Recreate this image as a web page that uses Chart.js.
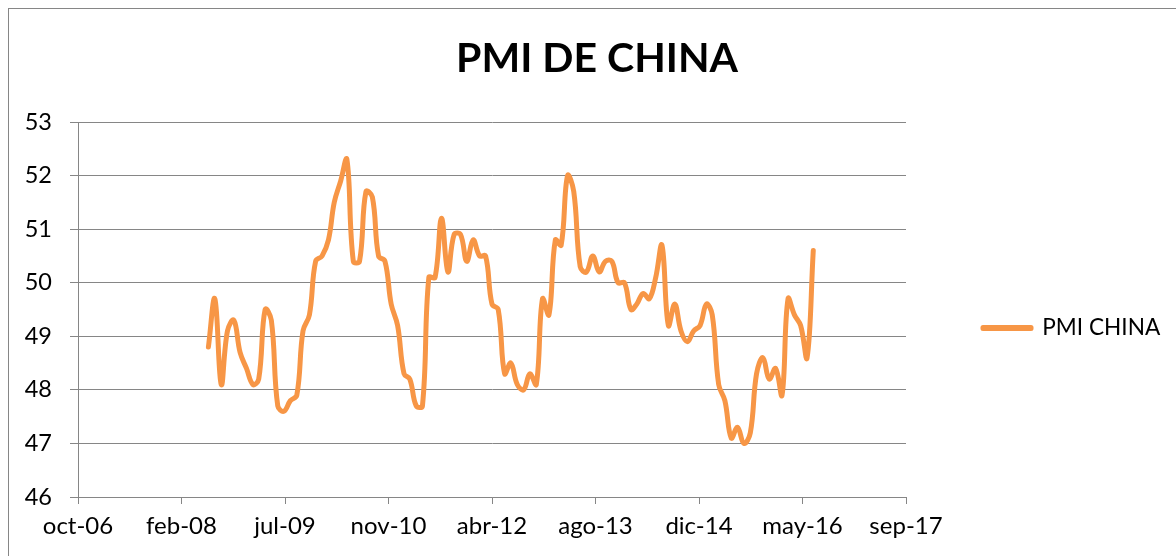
<!DOCTYPE html>
<html><head><meta charset="utf-8">
<script src="https://cdn.jsdelivr.net/npm/chart.js@4.4.1/dist/chart.umd.min.js"></script>
<style>
html,body{margin:0;padding:0;background:#fff;overflow:hidden;}
#frame{position:absolute;left:8px;top:8px;width:1300px;height:700px;border-left:1px solid #868686;border-top:1px solid #868686;}
#wrap{position:absolute;left:0;top:0;width:1176px;height:556px;}
</style></head><body>
<div id="frame"></div>
<div id="wrap"><canvas id="c" width="1176" height="556"></canvas></div>
<script>
// ---- data ----
const chartTitle = 'PMI DE CHINA';
const seriesName = 'PMI CHINA';
const firstMonth = { year: 2008, month: 7 };   // Jul 2008, one value per month
const pmiChina = [
  48.8, 49.7, 48.1, 49.1, 49.3, 48.7, 48.4, 48.1, 48.2, 49.5, 49.3, 47.7,
  47.6, 47.8, 47.9, 49.1, 49.4, 50.4, 50.5, 50.8, 51.5, 51.9, 52.3, 50.4,
  50.4, 51.7, 51.6, 50.5, 50.4, 49.6, 49.2, 48.3, 48.2, 47.7, 47.7, 50.1,
  50.1, 51.2, 50.2, 50.9, 50.9, 50.4, 50.8, 50.5, 50.5, 49.6, 49.5, 48.3,
  48.5, 48.1, 48.0, 48.3, 48.1, 49.7, 49.4, 50.8, 50.7, 52.0, 51.7, 50.3,
  50.2, 50.5, 50.2, 50.4, 50.4, 50.0, 50.0, 49.5, 49.6, 49.8, 49.7, 50.1,
  50.7, 49.2, 49.6, 49.1, 48.9, 49.1, 49.2, 49.6, 49.4, 48.1, 47.8, 47.1,
  47.3, 47.0, 47.2, 48.3, 48.6, 48.2, 48.4, 47.9, 49.7, 49.4, 49.2, 48.6,
  50.6
];
const xTickLabels = ['oct-06','feb-08','jul-09','nov-10','abr-12','ago-13','dic-14','may-16','sep-17'];
const xAxisMin = 39000, xAxisMax = 43000, xAxisStep = 500;   // Excel date serials
const yAxisMin = 46, yAxisMax = 53, yAxisStep = 1;

// ---- helpers ----
function excelSerial(y, m) {
  return Math.round((Date.UTC(y, m - 1, 1) - Date.UTC(1899, 11, 30)) / 86400000);
}
const points = pmiChina.map((v, i) => {
  const mi = firstMonth.month - 1 + i;
  const y = firstMonth.year + Math.floor(mi / 12);
  const m = (mi % 12) + 1;
  return { x: excelSerial(y, m), y: v };
});

const ORANGE = '#F79646';
const GRID = '#868686';
const FONT = 'Lato';
const PLOT_LEFT = 78, PLOT_RIGHT = 906, PLOT_BOTTOM = 497;
const PAD = { top: 8, left: 18, right: 0, bottom: 0 };

const legendWidthPlugin = {
  id: 'legendWidth',
  beforeLayout(chart) {
    const lg = chart.legend;
    if (lg && !lg.__fixed) {
      const orig = lg.fit.bind(lg);
      lg.fit = function () { orig(); this.width = 1176 - PAD.right - PLOT_RIGHT; };
      lg.__fixed = true;
    }
  }
};

new Chart(document.getElementById('c'), {
  type: 'line',
  data: {
    datasets: [{
      label: seriesName,
      data: points,
      borderColor: ORANGE,
      backgroundColor: ORANGE,
      borderWidth: 5,
      borderJoinStyle: 'round',
      borderCapStyle: 'round',
      pointRadius: 0,
      pointHoverRadius: 0,
      tension: 0.4,
      fill: false
    }]
  },
  options: {
    responsive: false,
    animation: false,
    devicePixelRatio: 1,
    layout: { padding: PAD },
    plugins: {
      tooltip: { enabled: false },
      title: {
        display: true,
        text: chartTitle,
        color: '#000',
        font: { family: FONT, size: 41, weight: 'bold', lineHeight: 1.2 },
        padding: { top: 26, bottom: 38.8 }
      },
      legend: {
        position: 'right',
        align: 'center',
        title: { display: true, text: '', font: { size: 10, lineHeight: 1.2 }, padding: { top: 40, bottom: 40 } },
        labels: {
          color: '#000',
          font: { family: FONT, size: 22.6 },
          boxWidth: 48,
          boxHeight: 1,
          padding: 77
        }
      }
    },
    scales: {
      x: {
        type: 'linear',
        min: xAxisMin, max: xAxisMax,
        afterFit(s) { s.height = 556 - PAD.bottom - PLOT_BOTTOM; },
        afterBuildTicks(s) {
          s.ticks = xTickLabels.map((_, i) => ({ value: xAxisMin + i * xAxisStep }));
        },
        ticks: {
          stepSize: xAxisStep,
          autoSkip: false,
          maxRotation: 0,
          padding: 8,
          color: '#000',
          font: { family: FONT, size: 24 },
          callback: (v) => xTickLabels[Math.round((v - xAxisMin) / xAxisStep)]
        },
        grid: { display: true, drawOnChartArea: false, drawTicks: true, tickLength: 7, color: GRID, lineWidth: 1 },
        border: { display: true, color: GRID, width: 1 }
      },
      y: {
        min: yAxisMin, max: yAxisMax,
        afterFit(s) { s.width = PLOT_LEFT - PAD.left; },
        ticks: {
          stepSize: yAxisStep,
          padding: 18,
          color: '#000',
          font: { family: FONT, size: 23.5 }
        },
        grid: { color: GRID, lineWidth: 1, tickLength: 8, drawTicks: true },
        border: { display: true, color: GRID, width: 1 }
      }
    }
  },
  plugins: [legendWidthPlugin]
});
</script>
</body></html>
